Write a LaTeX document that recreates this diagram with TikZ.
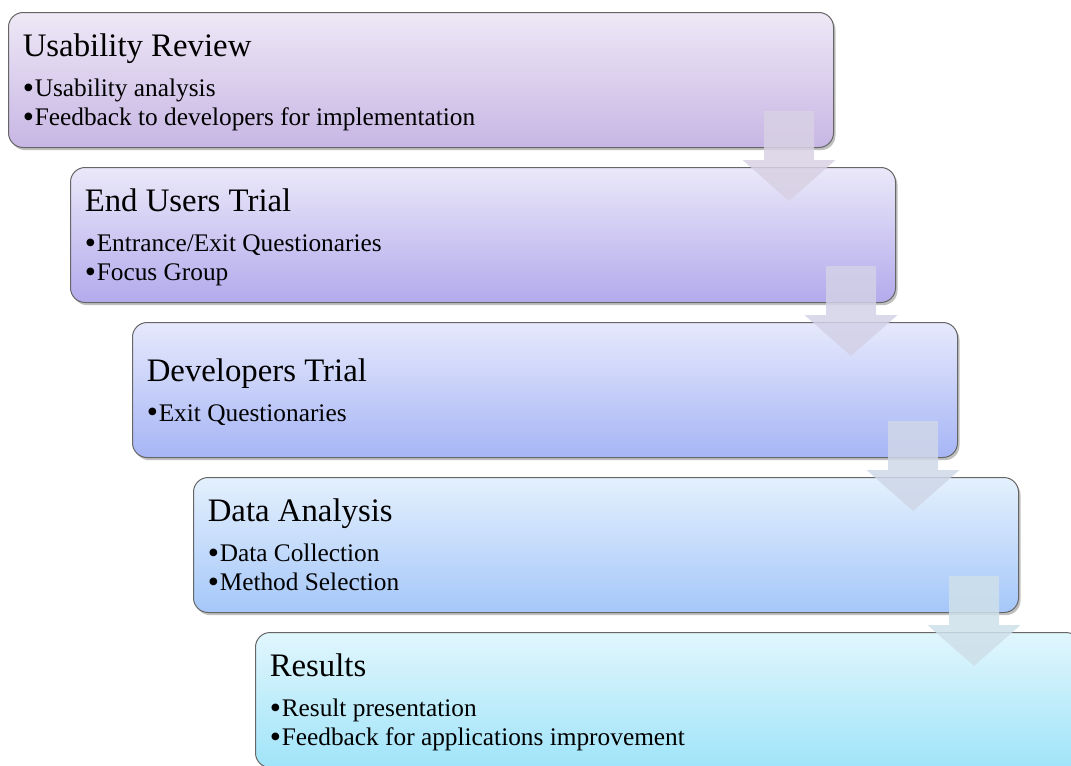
\documentclass[tikz,border=0pt]{standalone}
\usepackage{fontspec}
\setmainfont{Liberation Serif}
\usetikzlibrary{shadows}

\definecolor{urtop}{RGB}{238,232,246}
\definecolor{urbot}{RGB}{199,182,228}
\definecolor{euttop}{RGB}{234,232,249}
\definecolor{eutbot}{RGB}{179,170,236}
\definecolor{dttop}{RGB}{230,233,252}
\definecolor{dtbot}{RGB}{166,181,245}
\definecolor{datop}{RGB}{228,240,253}
\definecolor{dabot}{RGB}{165,199,249}
\definecolor{restop}{RGB}{225,246,253}
\definecolor{resbot}{RGB}{160,228,249}
\definecolor{arrA}{RGB}{216,209,228}
\definecolor{arrB}{RGB}{211,209,231}
\definecolor{arrC}{RGB}{207,215,232}
\definecolor{arrD}{RGB}{206,224,234}

\newcommand{\sttl}{\fontsize{24.6}{29}\selectfont}
\newcommand{\blt}{\makebox[9pt][l]{\smash{\raisebox{-1.2pt}{\fontsize{24}{24}\selectfont\textbullet}}}}

\begin{document}
\begin{tikzpicture}[x=0.75pt, y=-0.75pt,
  stage/.style={draw=black!60, line width=0.75pt, rounded corners=11pt,
    minimum width=618.75pt, minimum height=101.25pt, anchor=north west,
    inner sep=0pt, drop shadow={shadow xshift=1.5pt, shadow yshift=-2pt, opacity=0.5}},
  stagetext/.style={anchor=north west, align=left, inner sep=0pt,
    font=\fontsize{19}{21.6}\selectfont},
  flow/.style={fill=#1, fill opacity=0.85}]
\useasboundingbox (0,0) rectangle (1071,765);
\clip (0,0) rectangle (1071,765);

% the five stages
\node[stage, top color=urtop, bottom color=urbot] (ur) at (8,12) {};
\node[stage, top color=euttop, bottom color=eutbot] (eut) at (70,167) {};
\node[stage, top color=dttop, bottom color=dtbot] (dt) at (132,322) {};
\node[stage, top color=datop, bottom color=dabot] (da) at (193,477) {};
\node[stage, top color=restop, bottom color=resbot] (res) at (255,632) {};

% texts
\node[stagetext] (urtxt) at ([shift={(14.5,21.5)}]ur.north west)
  {{\sttl Usability Review}\\[8.5pt]
   \blt Usability analysis\\
   \blt Feedback to developers for implementation};
\node[stagetext] (euttxt) at ([shift={(14.5,21.5)}]eut.north west)
  {{\sttl End Users Trial}\\[8.5pt]
   \blt Entrance/Exit Questionaries\\
   \blt Focus Group};
\node[stagetext] (dttxt) at ([shift={(14.5,36)}]dt.north west)
  {{\sttl Developers Trial}\\[8.5pt]
   \blt Exit Questionaries};
\node[stagetext] (datxt) at ([shift={(14.5,21.5)}]da.north west)
  {{\sttl Data Analysis}\\[8.5pt]
   \blt Data Collection\\
   \blt Method Selection};
\node[stagetext] (restxt) at ([shift={(14.5,21.5)}]res.north west)
  {{\sttl Results}\\[8.5pt]
   \blt Result presentation\\
   \blt Feedback for applications improvement};

% down arrows between stages
\foreach \up/\col in {ur/arrA, eut/arrB, dt/arrC, da/arrD}
  \fill[flow=\col] ([shift={(-70,-37)}]\up.south east) -- ++(50,0) -- ++(0,49)
    -- ++(21.5,0) -- ++(-46.5,41) -- ++(-46.5,-41) -- ++(21.5,0) -- cycle;
\end{tikzpicture}
\end{document}
